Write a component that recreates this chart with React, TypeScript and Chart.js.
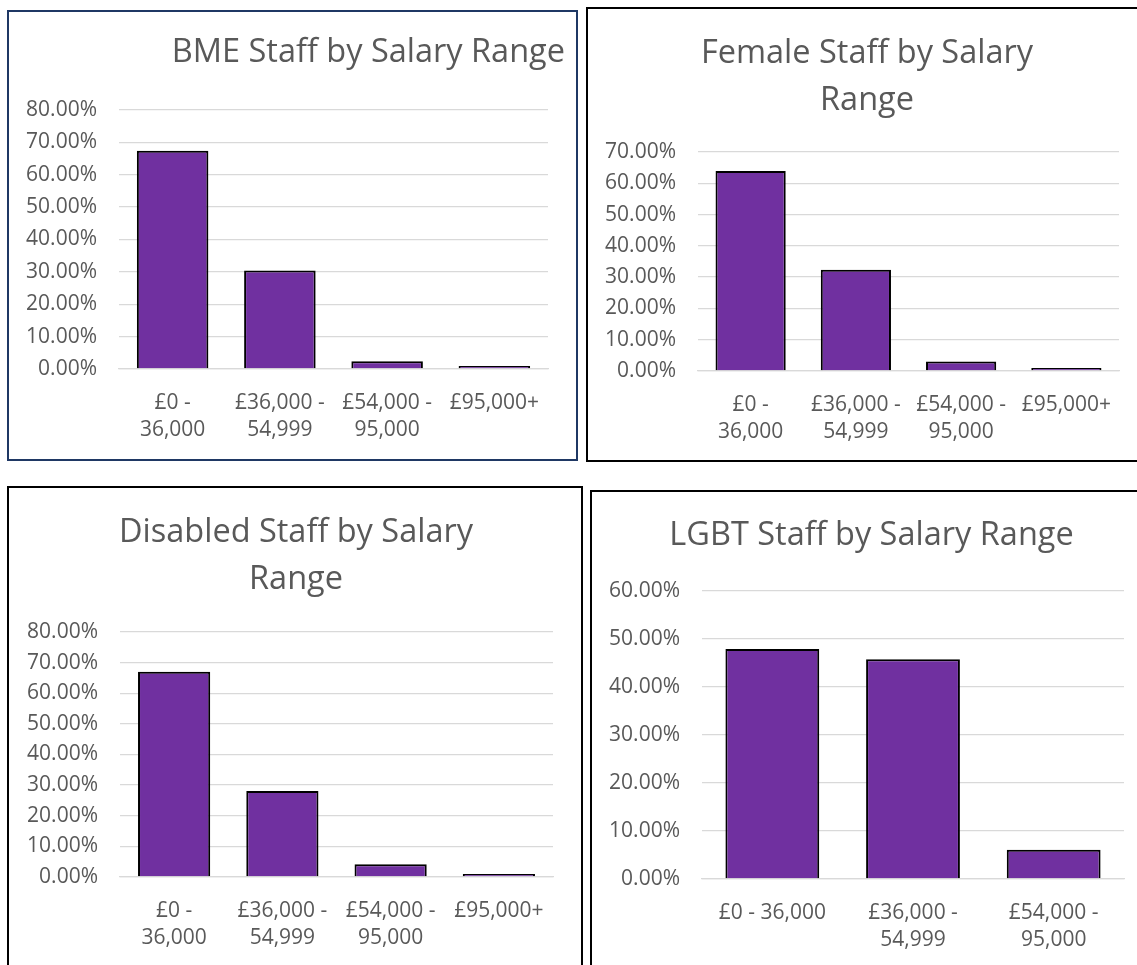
import React, { useEffect, useRef } from 'react';
import { Chart, registerables } from 'chart.js';

Chart.register(...registerables);

// ---------- data ----------
const salaryBandsFour: (string | string[])[] = [['£0 -', '36,000'], ['£36,000 -', '54,999'], ['£54,000 -', '95,000'], '£95,000+'];
const salaryBandsThree: (string | string[])[] = ['£0 - 36,000', ['£36,000 -', '54,999'], ['£54,000 -', '95,000']];

const bmeValues = [67.4, 30.4, 2.4, 0.4];
const femaleValues = [63.9, 32.4, 3.0, 0.5];
const disabledValues = [67.0, 28.1, 4.2, 0.9];
const lgbtValues = [47.9, 45.8, 6.1];

const bmeTitle = 'BME Staff by Salary Range';
const femaleTitle = ['Female Staff by Salary', 'Range'];
const disabledTitle = ['Disabled Staff by Salary', 'Range'];
const lgbtTitle = 'LGBT Staff by Salary Range';

const bmeMax = 80;
const femaleMax = 70;
const disabledMax = 80;
const lgbtMax = 60;
const tickStep = 10;

// ---------- styling ----------
const FONT = "'Open Sans', 'DejaVu Sans', sans-serif";
const TEXT = '#595959';
const BAR = '#7030A0';
const GRID = '#D9D9D9';
const TITLE_SIZE = 32.5;
const TITLE_LH = 47;
const TICK_SIZE = 21;
const TICK_LH = 27;

type Rect = { left: number; top: number; right: number; bottom: number };
type Spec = {
  title: string | string[];
  align: 'center' | 'end';
  labels: (string | string[])[];
  values: number[];
  max: number;
  canvas: Rect;
  plot: Rect;
  titleY: number;
};

const specs: Spec[] = [
  { title: bmeTitle, align: 'end', labels: salaryBandsFour, values: bmeValues, max: bmeMax,
    canvas: { left: 9, top: 12, right: 565, bottom: 459 }, plot: { left: 119, top: 110, right: 548, bottom: 369 }, titleY: 53 },
  { title: femaleTitle, align: 'center', labels: salaryBandsFour, values: femaleValues, max: femaleMax,
    canvas: { left: 597, top: 9, right: 1137, bottom: 460 }, plot: { left: 698, top: 152, right: 1119, bottom: 371 }, titleY: 54 },
  { title: disabledTitle, align: 'center', labels: salaryBandsFour, values: disabledValues, max: disabledMax,
    canvas: { left: 11, top: 488, right: 581, bottom: 965 }, plot: { left: 120, top: 632, right: 553, bottom: 877 }, titleY: 533 },
  { title: lgbtTitle, align: 'center', labels: salaryBandsThree, values: lgbtValues, max: lgbtMax,
    canvas: { left: 606, top: 492, right: 1137, bottom: 965 }, plot: { left: 702, top: 591, right: 1124, bottom: 879 }, titleY: 536 },
];

const panels = [
  { left: 7, top: 10, width: 571, height: 451, color: '#1F3864' },
  { left: 586, top: 7, width: 560, height: 455, color: '#000000' },
  { left: 7, top: 486, width: 576, height: 500, color: '#000000' },
  { left: 590, top: 490, width: 560, height: 500, color: '#000000' },
];

function ChartPanel({ spec }: { spec: Spec }) {
  const ref = useRef<HTMLCanvasElement | null>(null);
  useEffect(() => {
    const c = spec.canvas;
    const p = spec.plot;
    const lines = Array.isArray(spec.title) ? spec.title.length : 1;
    const padTop = spec.titleY - c.top - TITLE_LH / 2;
    const padBottom = p.top - c.top - padTop - lines * TITLE_LH;
    const yWidth = p.left - c.left;
    const rightWidth = c.right - p.right;
    const xHeight = c.bottom - p.bottom;
    const chart = new Chart(ref.current as HTMLCanvasElement, {
      type: 'bar',
      data: {
        labels: spec.labels,
        datasets: [{
          data: spec.values,
          backgroundColor: BAR,
          borderColor: '#000000',
          borderWidth: 2,
          minBarLength: 3,
          categoryPercentage: 1,
          barPercentage: 0.667,
        }],
      },
      options: {
        responsive: false,
        animation: false,
        layout: { padding: 0 },
        plugins: {
          legend: { display: false },
          tooltip: { enabled: false },
          title: {
            display: true,
            text: spec.title,
            align: spec.align,
            color: TEXT,
            font: { family: FONT, size: TITLE_SIZE, weight: 'normal', lineHeight: TITLE_LH + 'px' },
            padding: { top: padTop, bottom: padBottom },
          },
        },
        scales: {
          x: {
            grid: { display: false },
            border: { display: true, color: GRID, width: 1.3 },
            ticks: {
              color: TEXT,
              padding: 13,
              maxRotation: 0,
              autoSkip: false,
              font: { family: FONT, size: TICK_SIZE, lineHeight: TICK_LH + 'px' },
            },
            afterFit: (s: any) => { s.height = xHeight; },
          },
          y: {
            min: 0,
            max: spec.max,
            grid: { color: GRID, lineWidth: 1.3, drawTicks: false },
            border: { display: false },
            ticks: {
              stepSize: tickStep,
              color: TEXT,
              padding: 22,
              font: { family: FONT, size: TICK_SIZE },
              callback: (v: any) => Number(v).toFixed(2) + '%',
            },
            afterFit: (s: any) => { s.width = yWidth; },
          },
          yRight: {
            type: 'linear',
            position: 'right',
            display: true,
            grid: { display: false },
            border: { display: false },
            ticks: { display: false },
            afterFit: (s: any) => { s.width = rightWidth; },
          },
        },
      } as any,
    });
    return () => chart.destroy();
  }, [spec]);
  const c = spec.canvas;
  return (
    <canvas
      ref={ref}
      width={c.right - c.left}
      height={c.bottom - c.top}
      style={{ position: 'absolute', left: c.left, top: c.top, width: c.right - c.left, height: c.bottom - c.top }}
    />
  );
}

export default function App() {
  return (
    <div style={{ position: 'fixed', left: 0, top: 0, width: 1137, height: 965, overflow: 'hidden', background: '#ffffff' }}>
      {panels.map((b, i) => (
        <div
          key={'p' + i}
          style={{
            position: 'absolute', left: b.left, top: b.top, width: b.width, height: b.height,
            border: '2px solid ' + b.color, boxSizing: 'border-box', background: '#ffffff',
          }}
        />
      ))}
      {specs.map((s, i) => <ChartPanel key={'c' + i} spec={s} />)}
    </div>
  );
}
